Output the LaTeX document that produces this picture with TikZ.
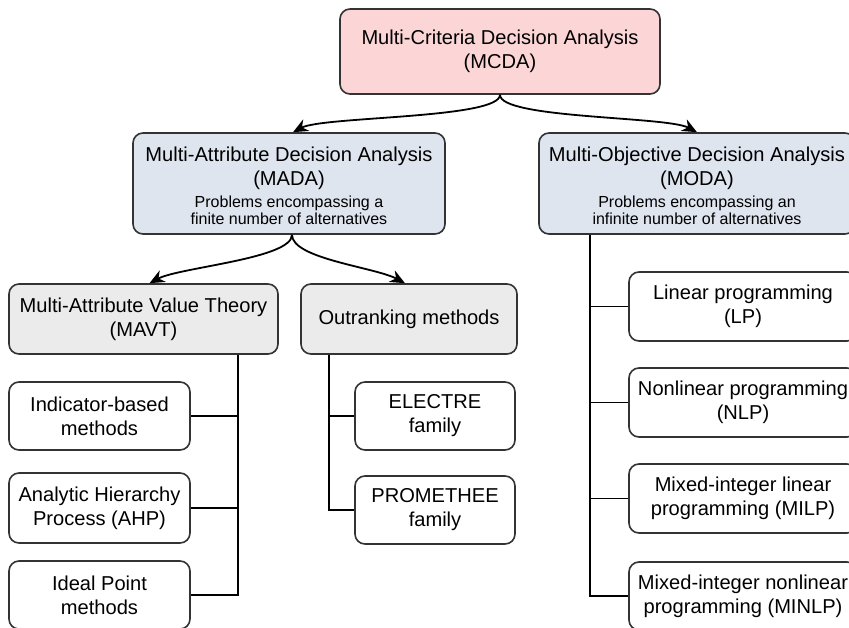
\documentclass[tikz,border=0pt]{standalone}
\usepackage{fontspec}
\setmainfont{Liberation Sans}
\usetikzlibrary{arrows.meta}

\definecolor{pinkfill}{HTML}{FCD6D6}
\definecolor{bluefill}{HTML}{DEE5EE}
\definecolor{grayfill}{HTML}{EBEBEB}
\definecolor{edgegray}{HTML}{333333}

\newcommand{\mainsize}{\fontsize{20.1}{24}\selectfont}
\newcommand{\subsize}{\fontsize{16}{17.7}\selectfont}
\newcommand{\subnote}[1]{{\subsize\begin{tabular}{@{}c@{}}#1\end{tabular}}}
% extra head room above the first title line of the class boxes
\newcommand{\headroom}{\rule{0pt}{25pt}}

\tikzset{
  box/.style={draw=edgegray, line width=1.6pt, rounded corners=10pt,
    inner sep=0pt, align=center, font=\mainsize, fill=white},
  topbox/.style={box, fill=pinkfill},
  catbox/.style={box, fill=bluefill},
  subbox/.style={box, fill=grayfill},
  flow/.style={draw=black, line width=1.8pt,
    -{Stealth[length=15pt,width=13pt]}},
  branch/.style={draw=black, line width=1.5pt}
}

\begin{document}
\begin{tikzpicture}[x=1pt, y=-1pt]
  \useasboundingbox (0,0) rectangle (849,627);
  \clip (0,0) rectangle (849,627);

  % top level
  \node[topbox, minimum width=320pt, minimum height=85pt] (mcda) at (500,51.5)
    {Multi-Criteria Decision Analysis\\(MCDA)};

  % problem classes
  \node[catbox, minimum width=312pt, minimum height=101pt] (mada) at (289,183.5)
    {\headroom Multi-Attribute Decision Analysis\\(MADA)\\[4pt]
     \subnote{Problems encompassing a\\finite number of alternatives}};
  \node[catbox, minimum width=316pt, minimum height=101pt] (moda) at (697,183.5)
    {\headroom Multi-Objective Decision Analysis\\(MODA)\\[4pt]
     \subnote{Problems encompassing an\\infinite number of alternatives}};

  % MADA families
  \node[subbox, minimum width=269pt, minimum height=70pt] (mavt) at (143.5,319)
    {Multi-Attribute Value Theory\\(MAVT)};
  \node[subbox, minimum width=216pt, minimum height=70pt] (outr) at (409,319)
    {Outranking methods};

  % MAVT methods
  \node[box, minimum width=181pt, minimum height=68pt] (ind) at (99.5,416)
    {Indicator-based\\methods};
  \node[box, minimum width=181pt, minimum height=70pt] (ahp) at (99.5,508)
    {Analytic Hierarchy\\Process (AHP)};
  \node[box, minimum width=181pt, minimum height=68pt] (ideal) at (99.5,595)
    {Ideal Point\\methods};

  % outranking methods
  \node[box, minimum width=160pt, minimum height=68pt] (electre) at (435,416)
    {ELECTRE\\family};
  \node[box, minimum width=160pt, minimum height=68pt] (prom) at (435,510)
    {PROMETHEE\\family};

  % MODA methods
  \node[box, minimum width=228pt, minimum height=69pt] (lp) at (743,306.5)
    {Linear programming\\(LP)};
  \node[box, minimum width=228pt, minimum height=69pt] (nlp) at (743,402.5)
    {Nonlinear programming\\(NLP)};
  \node[box, minimum width=228pt, minimum height=69pt] (milp) at (743,498.5)
    {Mixed-integer linear\\programming (MILP)};
  \node[box, minimum width=228pt, minimum height=68pt] (minlp) at (743,596)
    {Mixed-integer nonlinear\\programming (MINLP)};

  % curved arrows
  \draw[flow] (mcda.south) .. controls ++(0,24) and ++(30,-16) .. ([xshift=4pt]mada.north);
  \draw[flow] (mcda.south) .. controls ++(0,24) and ++(-30,-16) .. (moda.north);
  \draw[flow] ([xshift=3pt]mada.south) .. controls ++(0,24) and ++(30,-16) .. ([xshift=6pt]mavt.north);
  \draw[flow] ([xshift=3pt]mada.south) .. controls ++(0,24) and ++(-30,-16) .. ([xshift=-4pt]outr.north);

  % tree branches
  \coordinate (mavtT) at (mavt.south -| 238,0);
  \coordinate (outT) at (outr.south -| 329,0);
  \coordinate (modaT) at (moda.south -| 590,0);
  \draw[branch] (mavtT) |- (ind.east);
  \draw[branch] (mavtT) |- (ahp.east);
  \draw[branch] (mavtT) |- (ideal.east);
  \draw[branch] (outT) |- (electre.west);
  \draw[branch] (outT) |- (prom.west);
  \draw[branch] (modaT) |- (lp.west);
  \draw[branch] (modaT) |- (nlp.west);
  \draw[branch] (modaT) |- (milp.west);
  \draw[branch] (modaT) |- (minlp.west);
\end{tikzpicture}
\end{document}
